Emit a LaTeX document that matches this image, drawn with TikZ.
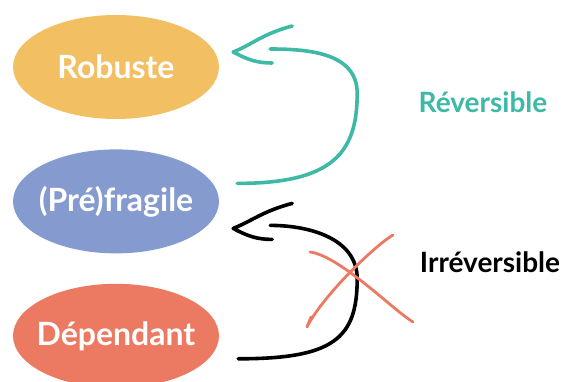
\documentclass[tikz,border=0pt]{standalone}
\usepackage{fontspec}
\setmainfont{Lato}
\usetikzlibrary{arrows.meta, positioning, calc, shapes.geometric}

\definecolor{cRob}{HTML}{F2C063}
\definecolor{cFrag}{HTML}{859BCF}
\definecolor{cDep}{HTML}{EC7A62}
\definecolor{cRev}{HTML}{3DB9A6}

\begin{document}
\begin{tikzpicture}[
    x=1pt, y=1pt,
    state/.style={ellipse, minimum width=206pt, minimum height=104pt, inner sep=-15pt,
                  text=white, font=\bfseries\fontsize{32}{33}\selectfont},
    lbl/.style={font=\bfseries\fontsize{28}{29}\selectfont, anchor=center},
    rev/.style={draw=cRev, line width=3.6pt, line cap=round, line join=round},
    irr/.style={draw=black, line width=3.6pt, line cap=round, line join=round},
    cross/.style={draw=cDep, line width=2.8pt, line cap=round, line join=round}
]
\useasboundingbox (0,0) rectangle (566,381);
\clip (0,0) rectangle (566,381);

\node[state, fill=cRob] (robuste) at (116,314) {Robuste};
\node[state, fill=cFrag, below=30pt of robuste] (prefragile) {(Pré)fragile};
\node[state, fill=cDep, below=30pt of prefragile] (dependant) {Dépendant};

\node[lbl, text=cRev] (reversible) at (483,279) {Réversible};
\node[lbl, text=black] (irreversible) at (490,119) {Irréversible};

% reversible: (pre)fragile -> robuste
\coordinate (t1) at ([shift={(14,15)}]robuste.east);
\draw[rev] ([shift={(18,18)}]prefragile.east)
    .. controls +(95,0) and +(0,-60) .. +(120,90)
    .. controls +(0,40) and +(40,0) .. ([shift={(51,18)}]robuste.east);
\draw[rev] ([shift={(73,41)}]robuste.east) .. controls +(-30,-8) and +(20,8) .. (t1)
    .. controls +(15,-8) and +(-15,0) .. ([shift={(53,4)}]robuste.east);

% irreversible: dependant -> (pre)fragile
\coordinate (t2) at ([shift={(14,-27)}]prefragile.east);
\draw[irr] ([shift={(19,-23)}]dependant.east)
    .. controls +(95,0) and +(0,-60) .. +(119,80)
    .. controls +(0,40) and +(40,0) .. ([shift={(51,-24)}]prefragile.east);
\draw[irr] ([shift={(73,-2)}]prefragile.east) .. controls +(-30,-8) and +(20,8) .. (t2)
    .. controls +(15,-8) and +(-15,0) .. ([shift={(53,-38)}]prefragile.east);

% cross over the irreversible arrow
\coordinate (x0) at (355,106);
\draw[cross] ([shift={(-45,23)}]x0) .. controls +(30,-4) and +(-20,12) .. ([shift={(58,-47)}]x0);
\draw[cross] ([shift={(38,40)}]x0) .. controls +(-20,-12) and +(15,30) .. ([shift={(-48,-52)}]x0)
    -- ([shift={(-44,-42)}]x0);
\end{tikzpicture}
\end{document}
